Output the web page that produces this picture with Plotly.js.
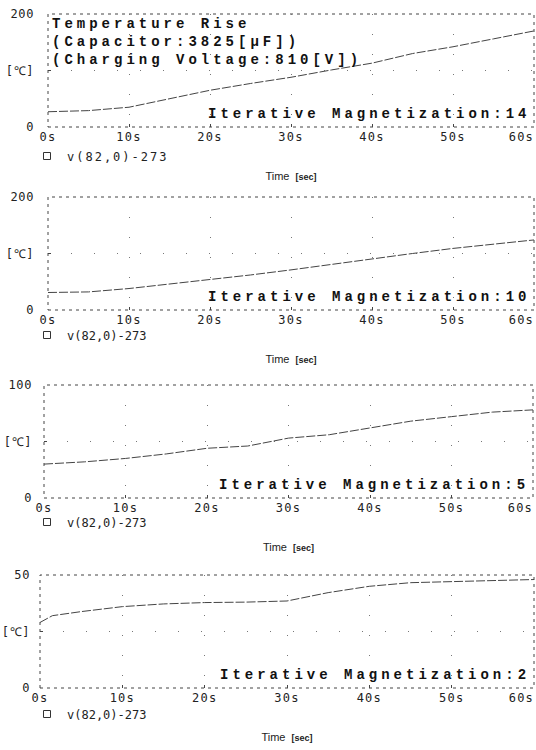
<!DOCTYPE html>
<html>
<head>
<meta charset="utf-8">
<script src="https://cdn.plot.ly/plotly-3.0.1.min.js"></script>
<style>
  html, body { margin: 0; padding: 0; background: #fff; }
  #chart { width: 536px; height: 750px; }
  .annotation-text { letter-spacing: 4px; }
  .xtick text, .x2tick text, .x3tick text, .x4tick text { letter-spacing: 1.2px; }
  .ytick text, .y2tick text, .y3tick text, .y4tick text { letter-spacing: 0.6px; }
  .legendtext { letter-spacing: 2px; }
</style>
</head>
<body>
<div id="chart"></div>
<script>
// ---- data ----
const time = [0, 1.5, 5, 10, 15, 20, 25, 30, 35, 40, 45, 50, 55, 60];
const tempMag14 = [27, 27.5, 29, 35, 50, 65, 77, 88, 101, 113, 130, 142, 156, 170];
const tempMag10 = [31, 31, 32, 38, 46, 53, 62, 71, 81, 91, 100, 109, 117, 124];
const tempMag5  = [30, 30.5, 32, 35, 39, 44, 46, 53, 56, 62, 68, 72, 76, 78];
const tempMag2  = [29, 32, 33.8, 36, 37.2, 37.8, 38, 38.5, 42.2, 45, 46.6, 47, 47.6, 48];

const xTickVals = [0, 10, 20, 30, 40, 50, 60];
const xTickText = ["0s", "10s", "20s", "30s", "40s", "50s", "60s"];
const yMax = [200, 200, 100, 50];
const iterLabels = ["Iterative Magnetization:14", "Iterative Magnetization:10",
                    "Iterative Magnetization:5", "Iterative Magnetization:2"];
const seriesName = "v(82,0)-273";
const headerText = "Temperature Rise<br>(Capacitor:3825[μF])<br>(Charging Voltage:810[V])";
const yUnit = "[℃]";
const xTitle = "Time";
const xUnit = "[sec]";

const series = [tempMag14, tempMag10, tempMag5, tempMag2];

// ---- layout geometry (pixels) ----
const W = 536, H = 750;
const panelTop = [14, 197, 385, 575];
const panelBottom = [127, 310, 498, 688];
const panelLeft = [48, 48, 44, 40];
const panelRight = [534, 534, 533, 534];
const legendY = [156, 335, 522, 714];
const yLabelGap = [13, 13, 11, 9];

const tickFont = {family: "DejaVu Sans Mono", size: 12, color: "#222"};
const annFont = {family: "Liberation Mono", size: 14, color: "#111", weight: "bold"};

const data = [];
const layout = {
  width: W, height: H,
  margin: {l: 0, r: 0, t: 0, b: 0},
  paper_bgcolor: "#fff", plot_bgcolor: "#fff",
  showlegend: true,
  shapes: [], annotations: []
};

for (let i = 0; i < 4; i++) {
  const sfx = i === 0 ? "" : String(i + 1);
  const xa = "x" + sfx, ya = "y" + sfx;
  const legName = "legend" + sfx;
  data.push({
    x: time, y: series[i], xaxis: xa, yaxis: ya,
    mode: "lines", showlegend: false, hoverinfo: "skip",
    line: {color: "#444", width: 1, dash: "9px,2px"}
  });
  data.push({
    x: [null], y: [null], xaxis: xa, yaxis: ya,
    mode: "markers", name: seriesName, legend: legName, showlegend: true,
    marker: {symbol: "square-open", size: 7, color: "#333", line: {width: 1}}
  });
  layout["xaxis" + sfx] = {
    domain: [panelLeft[i] / W, panelRight[i] / W], anchor: ya,
    range: [0, 60], tickvals: xTickVals, ticktext: xTickText,
    ticks: "inside", ticklen: 3, tickcolor: "#444",
    ticklabeloverflow: "allow", ticklabelstandoff: 1,
    showline: false, zeroline: false,
    showgrid: true, gridcolor: "#777", griddash: "1px,19px", gridwidth: 1,
    tickfont: tickFont,
    title: {
      text: xTitle + "\u00a0\u00a0<span style='font-size:9px;font-weight:bold'>" + xUnit + "</span>\u00a0\u00a0\u00a0\u00a0\u00a0\u00a0",
      font: {family: "Liberation Sans", size: 11, color: "#222"},
      standoff: 29
    }
  };
  layout["yaxis" + sfx] = {
    domain: [1 - panelBottom[i] / H, 1 - panelTop[i] / H], anchor: xa,
    range: [0, yMax[i]],
    tickvals: [0, yMax[i] / 2, yMax[i]],
    ticktext: ["0", yUnit, String(yMax[i])],
    ticks: "inside", ticklen: 3, tickcolor: "#444",
    showline: false, zeroline: false,
    showgrid: true, gridcolor: "#777", griddash: "1px,22px", gridwidth: 1,
    tickfont: tickFont, ticklabelstandoff: yLabelGap[i]
  };
  layout[legName] = {
    x: 27 / W, y: 1 - legendY[i] / H, xanchor: "left", yanchor: "middle",
    bgcolor: "rgba(0,0,0,0)", itemwidth: 30,
    font: {family: "DejaVu Sans Mono", size: 12, color: "#222"}
  };
  layout.shapes.push({
    type: "rect", xref: xa + " domain", yref: ya + " domain",
    x0: 0, x1: 1, y0: 0, y1: 1, layer: "below",
    line: {color: "#444", width: 1, dash: "3px,4px"}
  });
  layout.annotations.push({
    text: iterLabels[i], xref: xa + " domain", yref: ya + " domain",
    x: 0.995, y: 0.115, xanchor: "right", yanchor: "middle",
    showarrow: false, font: annFont
  });
}

layout.annotations.push({
  text: headerText, xref: "x domain", yref: "y domain",
  x: 0.004, y: 1.0, xanchor: "left", yanchor: "top", align: "left",
  showarrow: false, font: annFont
});

Plotly.newPlot("chart", data, layout, {staticPlot: true, displayModeBar: false}).then(function (gd) {
  // keep the last time label ("60s") of every panel inside the page, right-aligned to its tick
  const last = xTickText[xTickText.length - 1];
  gd.querySelectorAll(".xtick text, .x2tick text, .x3tick text, .x4tick text").forEach(function (t) {
    if (t.textContent === last) t.setAttribute("text-anchor", "end");
  });
});
</script>
</body>
</html>
